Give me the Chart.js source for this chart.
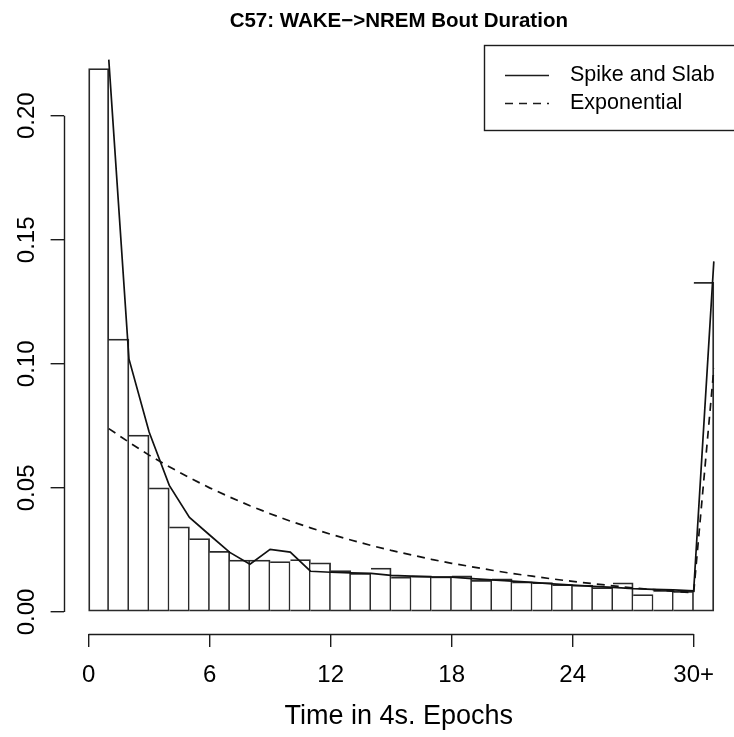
<!DOCTYPE html>
<html>
<head>
<meta charset="utf-8">
<title>C57: WAKE-&gt;NREM Bout Duration</title>
<script src="https://cdn.jsdelivr.net/npm/chart.js@4.4.1/dist/chart.umd.min.js"></script>
<style>
  html, body { margin: 0; padding: 0; background: #fff; }
  #wrap { width: 734px; height: 737px; }
</style>
</head>
<body>
<div id="wrap"><canvas id="hist"></canvas></div>
<script>
// histogram bins: bin i covers [i, i+1), the last one is "30+"
const binStarts = [0, 1, 2, 3, 4, 5, 6, 7, 8, 9, 10, 11, 12, 13, 14, 15,
    16, 17, 18, 19, 20, 21, 22, 23, 24, 25, 26, 27, 28, 29, 30];
const binHeights = [0.219, 0.110, 0.0713, 0.050, 0.0343, 0.0296, 0.0244, 0.0209,
    0.0209, 0.0203, 0.0211, 0.0198, 0.0167, 0.0156, 0.0177, 0.0141, 0.0145,
    0.0142, 0.0145, 0.0128, 0.0133, 0.0121, 0.0118, 0.0110, 0.0108, 0.0098,
    0.0117, 0.0070, 0.0087, 0.0083, 0.1329];

// fitted curves, read at the right edge of each bin
const fitX = [1, 2, 3, 4, 5, 6, 7, 8, 9, 10, 11, 12, 13, 14, 15, 16,
    17, 18, 19, 20, 21, 22, 23, 24, 25, 26, 27, 28, 29, 30, 31];
const spikeSlab = [0.2226, 0.102, 0.0725, 0.051, 0.0381, 0.031, 0.024, 0.0192,
    0.0252, 0.0241, 0.0164, 0.016, 0.0157, 0.0155, 0.0147, 0.0144, 0.0141,
    0.014, 0.0134, 0.0129, 0.0124, 0.0119, 0.0113, 0.0108, 0.0103, 0.0099,
    0.0094, 0.0091, 0.0089, 0.0085, 0.1413];
const exponential = [0.0739, 0.0684, 0.0632, 0.0585, 0.0541, 0.0500, 0.0463,
    0.0428, 0.0396, 0.0366, 0.0339, 0.0313, 0.0290, 0.0268, 0.0248, 0.0230,
    0.0212, 0.0196, 0.0182, 0.0168, 0.0155, 0.0144, 0.0133, 0.0123, 0.0114,
    0.0105, 0.0097, 0.0090, 0.0083, 0.0077, 0.098];

const xTicks = [0, 6, 12, 18, 24, 30];
const yTicks = [0, 0.05, 0.10, 0.15, 0.20];

const ink = '#1c1c1c';
Chart.defaults.font.family = "'Liberation Sans', Arial, sans-serif";
Chart.defaults.color = '#000';

// R style axes: the line only runs from the first to the last tick
const rAxes = {
    id: 'rAxes',
    afterDraw(chart) {
        const {ctx, chartArea, scales} = chart;
        ctx.save();
        ctx.strokeStyle = ink;
        ctx.lineWidth = 1.4;
        ctx.beginPath();
        const yb = Math.round(chartArea.bottom) + 0.5;
        ctx.moveTo(scales.x.getPixelForValue(xTicks[0]), yb);
        ctx.lineTo(scales.x.getPixelForValue(xTicks[xTicks.length - 1]), yb);
        const xl = Math.round(chartArea.left) + 0.5;
        ctx.moveTo(xl, scales.y.getPixelForValue(yTicks[0]));
        ctx.lineTo(xl, scales.y.getPixelForValue(yTicks[yTicks.length - 1]));
        ctx.stroke();
        ctx.restore();
    }
};

// boxed legend in the top right corner
const rLegend = {
    id: 'rLegend',
    afterDraw(chart) {
        const ctx = chart.ctx;
        const lines = chart.data.datasets.filter(d => d.type === 'line');
        ctx.save();
        ctx.strokeStyle = ink;
        ctx.lineWidth = 1.4;
        ctx.strokeRect(484.5, 45.5, 260, 85);
        ctx.font = "21.5px 'Liberation Sans', Arial, sans-serif";
        ctx.textBaseline = 'middle';
        ctx.fillStyle = '#000';
        lines.forEach((d, i) => {
            const y = 75 + i * 28;
            ctx.setLineDash(d.borderDash || []);
            ctx.lineWidth = 1.6;
            ctx.beginPath();
            ctx.moveTo(505, y + 0.5);
            ctx.lineTo(549, y + 0.5);
            ctx.stroke();
            ctx.setLineDash([]);
            ctx.fillText(d.label, 570, y);
        });
        ctx.restore();
    }
};

new Chart(document.getElementById('hist'), {
    data: {
        datasets: [
            {
                type: 'line',
                label: 'Spike and Slab',
                data: fitX.map((x, i) => ({x: x, y: spikeSlab[i]})),
                borderColor: '#111',
                borderWidth: 1.7,
                pointRadius: 0,
                tension: 0,
                order: 0
            },
            {
                type: 'line',
                label: 'Exponential',
                data: fitX.map((x, i) => ({x: x, y: exponential[i]})),
                borderColor: '#111',
                borderWidth: 1.7,
                borderDash: [8, 6],
                pointRadius: 0,
                tension: 0,
                order: 1
            },
            {
                type: 'bar',
                label: 'Histogram',
                data: binStarts.map((b, i) => ({x: b + 0.5, y: binHeights[i]})),
                backgroundColor: '#fff',
                borderColor: '#2a2a2a',
                borderSkipped: false,
                borderWidth: (c) => ({top: 1.8, right: 1.8, bottom: 1.8, left: c.dataIndex === 0 ? 1.8 : 0}),
                barPercentage: 1,
                categoryPercentage: 1,
                order: 2
            }
        ]
    },
    options: {
        responsive: true,
        maintainAspectRatio: false,
        animation: false,
        layout: {padding: 0},
        plugins: {
            legend: {display: false},
            tooltip: {enabled: false},
            title: {
                display: true,
                text: 'C57: WAKE\u2212>NREM Bout Duration',
                fullSize: false,
                color: '#000',
                font: {size: 20.5, weight: 'bold'},
                padding: {top: 9, bottom: 4}
            }
        },
        scales: {
            x: {
                type: 'linear',
                offset: false,
                min: -1.24,
                max: 32,
                afterBuildTicks: (s) => { s.ticks = xTicks.map(v => ({value: v})); },
                afterFit: (s) => { s.height = 103; },
                ticks: {
                    callback: (v) => v === 30 ? '30+' : String(v),
                    font: {size: 24},
                    padding: 14,
                    maxRotation: 0
                },
                grid: {offset: false, drawOnChartArea: false, drawTicks: true, tickLength: 13, color: ink, lineWidth: 1.4},
                border: {display: false},
                title: {
                    display: true,
                    text: 'Time in 4s. Epochs',
                    font: {size: 27},
                    padding: {top: 0, bottom: 4}
                }
            },
            y: {
                type: 'linear',
                min: -0.0089,
                max: 0.2315,
                afterBuildTicks: (s) => { s.ticks = yTicks.map(v => ({value: v})); },
                afterFit: (s) => { s.width = 63.6; },
                ticks: {
                    callback: (v) => v.toFixed(2),
                    font: {size: 24},
                    minRotation: 90,
                    maxRotation: 90,
                    crossAlign: 'center',
                    padding: 0
                },
                grid: {drawOnChartArea: false, drawTicks: true, tickLength: 13, color: ink, lineWidth: 1.4},
                border: {display: false}
            }
        }
    },
    plugins: [rAxes, rLegend]
});
</script>
</body>
</html>
